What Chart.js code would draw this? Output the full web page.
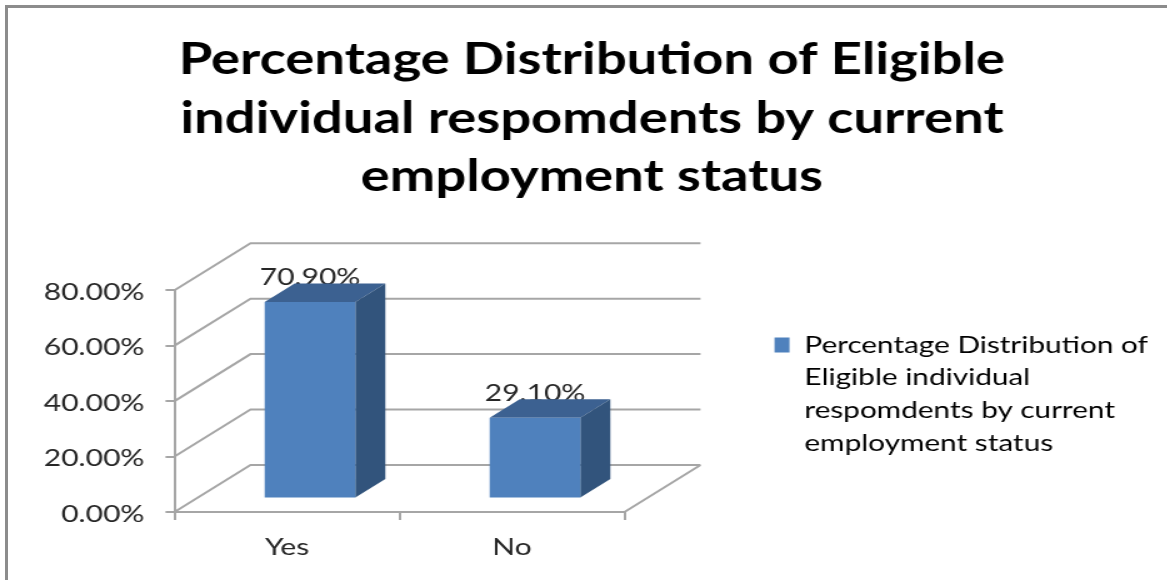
<!DOCTYPE html>
<html>
<head>
<meta charset="utf-8">
<script src="https://cdn.jsdelivr.net/npm/chart.js@4/dist/chart.umd.min.js"></script>
<style>
html, body { margin: 0; padding: 0; background: #fff; overflow: hidden; }
#wrap { position: relative; width: 1167px; height: 580px; overflow: hidden; }
#frame { position: absolute; left: 5px; top: 5px; right: 0; bottom: -4px; border-left: 3px solid #8c8c8c; border-top: 3px solid #8c8c8c; }
/* the original picture is a slide stretched sideways, so the canvas is too */
canvas { position: absolute; left: 0; top: 0; transform: scaleX(1.25); transform-origin: 0 0; }
</style>
</head>
<body>
<div id="wrap">
<div id="frame"></div>
<canvas id="chart" width="934" height="580"></canvas>
</div>
<script>
var categories = ["Yes", "No"];
var values = [70.9, 29.1];
var yTicks = [0, 20, 40, 60, 80];
var titleLines = ["Percentage Distribution of Eligible", "individual respomdents by current", "employment status"];
var legendLines = ["Percentage Distribution of", "Eligible individual", "respomdents by current", "employment status"];

var fontName = "Lato, sans-serif";
var textColor = "#262626";
var gridColor = "#a6a6a6";

// depth of the fake 3D box
var wallX = 60.8, wallY = -47;
var barShiftX = 18.4, barShiftY = -13.5;
var depthX = 24, depthY = -18.5;

function poly(ctx, pts, fill) {
  ctx.beginPath();
  ctx.moveTo(pts[0][0], pts[0][1]);
  for (var i = 1; i < pts.length; i++) ctx.lineTo(pts[i][0], pts[i][1]);
  ctx.closePath();
  ctx.fillStyle = fill;
  ctx.fill();
}

var box3d = {
  id: "box3d",
  beforeLayout: function(chart) {
    // legend column takes the whole right part of the picture
    if (chart.legend && !chart.legend._wrapped) {
      var fit = chart.legend.fit;
      chart.legend.fit = function() {
        fit.call(this);
        this.width = 434.4;
      };
      chart.legend._wrapped = true;
    }
  },
  afterLayout: function(chart) {
    chart.legend.top = 213;
  },
  beforeDatasetsDraw: function(chart) {
    var ctx = chart.ctx, x = chart.scales.x, y = chart.scales.y;
    ctx.save();
    ctx.strokeStyle = gridColor;
    ctx.lineWidth = 2;
    ctx.beginPath();
    yTicks.forEach(function(t) {
      var py = y.getPixelForValue(t);
      ctx.moveTo(x.left, py);
      ctx.lineTo(x.left + wallX, py + wallY);
      ctx.lineTo(x.right + wallX, py + wallY);
    });
    var base = y.getPixelForValue(0);
    ctx.moveTo(x.right, base);
    ctx.lineTo(x.right + wallX, base + wallY);
    ctx.stroke();
    ctx.restore();

    // value labels sit behind the box tops
    var meta = chart.getDatasetMeta(0);
    ctx.save();
    ctx.font = "24px " + fontName;
    ctx.fillStyle = textColor;
    ctx.textAlign = "center";
    ctx.textBaseline = "middle";
    meta.data.forEach(function(bar, i) {
      ctx.fillText(values[i].toFixed(2) + "%", bar.x + barShiftX, bar.y + barShiftY - 25);
    });
    ctx.restore();

    // top and side faces
    meta.data.forEach(function(bar) {
      var l = bar.x - bar.width / 2 + barShiftX, r = bar.x + bar.width / 2 + barShiftX;
      var t = bar.y + barShiftY, b = bar.base + barShiftY;
      poly(ctx, [[l, t], [l + depthX, t + depthY], [r + depthX, t + depthY], [r, t]], "#3c6191");
      poly(ctx, [[r, t], [r + depthX, t + depthY], [r + depthX, b + depthY], [r, b]], "#32547c");
    });

    ctx.save();
    ctx.translate(barShiftX, barShiftY);
  },
  afterDatasetsDraw: function(chart) {
    chart.ctx.restore();
  }
};

new Chart(document.getElementById("chart"), {
  type: "bar",
  data: {
    labels: categories,
    datasets: [{
      label: legendLines.join(" "),
      data: values,
      backgroundColor: "#4f81bd",
      barPercentage: 0.403,
      categoryPercentage: 1,
      clip: false
    }]
  },
  plugins: [box3d],
  options: {
    responsive: false,
    animation: false,
    layout: { padding: { left: 13 } },
    plugins: {
      tooltip: { enabled: false },
      title: {
        display: true,
        text: titleLines,
        color: "#000",
        font: { family: fontName, size: 43.5, weight: "bold", lineHeight: 1.35 },
        padding: { top: 30.5, bottom: 83.5 }
      },
      legend: {
        display: true,
        position: "right",
        align: "start",
        labels: {
          padding: 120,
          boxWidth: 12,
          boxHeight: 15,
          color: textColor,
          font: { family: fontName, size: 23.8, lineHeight: 1.38 },
          generateLabels: function() {
            return [{ text: legendLines, fillStyle: "#4f81bd", strokeStyle: "#4f81bd", lineWidth: 0, datasetIndex: 0 }];
          }
        }
      }
    },
    scales: {
      x: {
        afterFit: function(s) { s.height = 68; },
        grid: { drawOnChartArea: false, color: gridColor, lineWidth: 2, tickLength: 8 },
        border: { color: gridColor, width: 2 },
        ticks: { color: textColor, padding: 13, font: { family: fontName, size: 24 } }
      },
      y: {
        min: 0,
        max: 80,
        afterFit: function(s) { s.width = 126.6; },
        afterBuildTicks: function(s) { s.ticks = yTicks.map(function(v) { return { value: v }; }); },
        grid: { drawOnChartArea: false, color: gridColor, lineWidth: 2, tickLength: 7.2 },
        border: { color: gridColor, width: 2 },
        ticks: {
          color: textColor,
          padding: 16.8,
          labelOffset: 2,
          font: { family: fontName, size: 24 },
          callback: function(v) { return v.toFixed(2) + "%"; }
        }
      }
    }
  }
});
</script>
</body>
</html>
